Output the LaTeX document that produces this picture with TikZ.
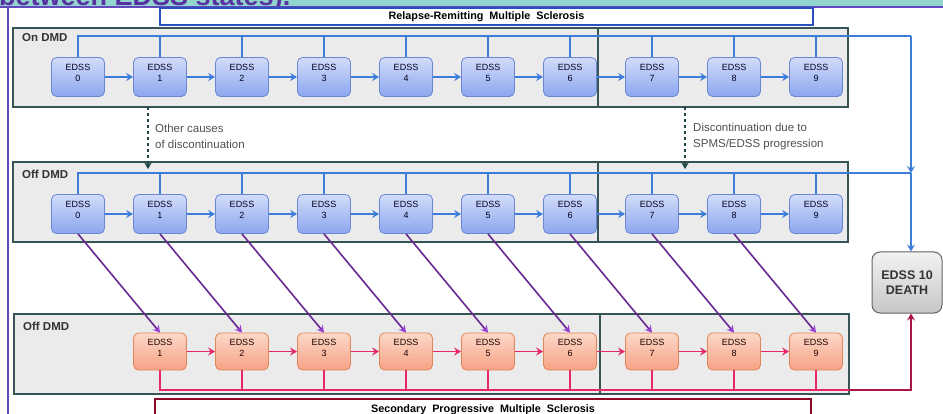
\documentclass[tikz,border=0pt]{standalone}
\usepackage{fontspec}
\setmainfont{Liberation Sans}
\usetikzlibrary{arrows.meta,calc}

\definecolor{bandteal}{RGB}{146,212,206}
\definecolor{headpurple}{RGB}{88,50,160}
\definecolor{framepurple}{RGB}{100,70,190}
\definecolor{panelgray}{RGB}{235,235,235}
\definecolor{panelborder}{RGB}{55,85,85}
\definecolor{flowblue}{RGB}{60,125,220}
\definecolor{boxbluetop}{RGB}{210,220,250}
\definecolor{boxbluebot}{RGB}{140,166,238}
\definecolor{boxblueedge}{RGB}{105,135,212}
\definecolor{boxorangetop}{RGB}{252,216,200}
\definecolor{boxorangebot}{RGB}{246,162,132}
\definecolor{boxorangeedge}{RGB}{225,132,92}
\definecolor{flowpink}{RGB}{230,40,105}
\definecolor{flowcrimson}{RGB}{170,20,70}
\definecolor{diagpurple}{RGB}{105,40,145}
\definecolor{diagviolet}{RGB}{150,60,210}
\definecolor{dashteal}{RGB}{30,70,70}
\definecolor{rrmsblue}{RGB}{40,80,190}
\definecolor{spmsred}{RGB}{140,10,40}
\definecolor{notegray}{RGB}{80,80,80}
\definecolor{deathedge}{RGB}{100,100,100}

\begin{document}
\begin{tikzpicture}[x=1pt,y=-1pt,
  panel/.style={draw=panelborder, fill=panelgray, line width=1.1pt, inner sep=0pt, outer sep=0pt, anchor=north west},
  paneltitle/.style={anchor=west, inner sep=0pt, font=\fontsize{11.5}{13}\selectfont\bfseries, text=black!80},
  edssbox/.style={rounded corners=5pt, line width=0.8pt, minimum width=53pt, minimum height=39pt,
    inner sep=0pt, align=center, font=\fontsize{9}{11}\selectfont},
  bluebox/.style={edssbox, draw=boxblueedge, top color=boxbluetop, bottom color=boxbluebot, text=black!70!blue!40!black},
  orangebox/.style={edssbox, draw=boxorangeedge, top color=boxorangetop, bottom color=boxorangebot, text=black!60!red!30!black},
  tip/.style={-{Stealth[length=7pt,width=8pt,inset=2.5pt]}},
  blueline/.style={draw=flowblue, line width=1.9pt},
  bluearrow/.style={blueline, tip},
  pinkline/.style={draw=flowpink, line width=1.9pt},
  pinkarrow/.style={pinkline, tip},
  crimsonarrow/.style={draw=flowcrimson, line width=1.9pt, tip},
  diagarrow/.style={draw=diagpurple, line width=1.6pt, -{Stealth[length=7pt,width=8pt,inset=2.5pt,color=diagviolet]}},
  dasharrow/.style={draw=dashteal, line width=1.4pt, dashed, -{Stealth[length=7pt,width=8pt,inset=2.5pt]}},
  note/.style={anchor=west, inner sep=0pt, align=left, font=\fontsize{11.5}{16}\selectfont, text=notegray},
  bandbox/.style={fill=white, line width=1.8pt, inner sep=0pt, font=\fontsize{10.8}{12}\selectfont\bfseries}
]
\useasboundingbox (0,0) rectangle (943,414);

% heading band and outer frame
\fill[bandteal] (0,0) rectangle (943,7);
\begin{scope}
  \clip (0,0) rectangle (943,7);
  \node[anchor=base west, inner sep=0pt, font=\fontsize{27}{30}\selectfont\bfseries, text=headpurple] (heading) at (-1,5.5) {between EDSS states).};
\end{scope}
\draw[framepurple, line width=1.6pt] (0,7) -- (943,7);
\draw[framepurple, line width=1.6pt] (8,7) -- (8,414);

% disease-course banners
\node[bandbox, draw=rrmsblue, minimum width=653pt, minimum height=17pt] (rrms) at (486.5,16.5)
  {Relapse-Remitting\ \ Multiple\ \ Sclerosis};

% panels
\node[panel, minimum width=835pt, minimum height=79pt] (onpanel) at (13,28) {};
\draw[panelborder, line width=1.1pt] (598,28) -- (598,107);
\node[panel, minimum width=835pt, minimum height=80pt] (offpanel) at (13,162) {};
\draw[panelborder, line width=1.1pt] (598,162) -- (598,242);
\node[panel, minimum width=835pt, minimum height=80pt] (sppanel) at (14,314) {};
\draw[panelborder, line width=1.1pt] (600,314) -- (600,394);

\node[paneltitle] (onlbl) at (22,38) {On DMD};
\node[paneltitle] (offlbl) at (22,174) {Off DMD};
\node[paneltitle] (splbl) at (23,326) {Off DMD};

% EDSS states
\foreach \i in {0,...,9} {
  \node[bluebox] (on\i) at ({78+82*\i},77) {EDSS\\\i\\[-3pt]};
  \node[bluebox] (off\i) at ({78+82*\i},214) {EDSS\\\i\\[-3pt]};
}
\foreach \i in {1,...,9}
  \node[orangebox, minimum height=37pt] (sp\i) at ({78+82*\i},351.5) {EDSS\\\i\\[-3pt]};

\node[rounded corners=8pt, draw=deathedge, line width=1pt, top color=white!95!black, bottom color=black!22,
  minimum width=70pt, minimum height=61pt, align=center, inner sep=0pt,
  font=\fontsize{12.5}{15}\selectfont\bfseries, text=black!80] (death) at (907,282.5) {EDSS 10\\DEATH};

% bus coordinates
\coordinate (onbusR) at (911,36);
\coordinate (offbusR) at (911,173);
\coordinate (spbusM) at (849,390);
\coordinate (spbusR) at (911,390);

% progression within each row
\foreach \i [count=\j from 1] in {0,...,8} {
  \draw[bluearrow] (on\i.east) -- (on\j.west);
  \draw[bluearrow] (off\i.east) -- (off\j.west);
}
\foreach \i [count=\j from 2] in {1,...,8}
  \draw[pinkarrow] (sp\i.east) -- (sp\j.west);

% transitions to secondary progressive
\foreach \i [count=\j from 1] in {0,...,8}
  \draw[diagarrow] (off\i.south) -- (sp\j.north);

% death buses
\draw[blueline] (on0.north) |- (onbusR);
\foreach \i in {1,...,9} \draw[blueline] (on\i.north) -- (on\i.north |- onbusR);
\draw[bluearrow] (onbusR) -- (offbusR);
\draw[blueline] (off0.north) |- (offbusR);
\foreach \i in {1,...,9} \draw[blueline] (off\i.north) -- (off\i.north |- offbusR);
\draw[bluearrow] (offbusR) -- (death.north -| offbusR);

\draw[pinkline] (sp1.south) |- (spbusM);
\foreach \i in {2,...,9} \draw[pinkline] (sp\i.south) -- (sp\i.south |- spbusM);
\draw[crimsonarrow] (spbusM) -| (death.south -| spbusR);

% discontinuation
\coordinate (dA) at (148,0);
\coordinate (dB) at (685,0);
\draw[dasharrow] (onpanel.south -| dA) -- ($(offpanel.north -| dA)+(0,7)$);
\draw[dasharrow] (onpanel.south -| dB) -- ($(offpanel.north -| dB)+(0,7)$);
\node[note] (noteA) at (155,136) {Other causes\\of discontinuation};
\node[note] (noteB) at (693,137) {Discontinuation due to\\SPMS/EDSS progression};

\node[bandbox, draw=spmsred, minimum width=656pt, minimum height=19pt, text depth=0pt] (spms) at (483,408.5)
  {Secondary\ \ Progressive\ \ Multiple\ \ Sclerosis};
\end{tikzpicture}
\end{document}
